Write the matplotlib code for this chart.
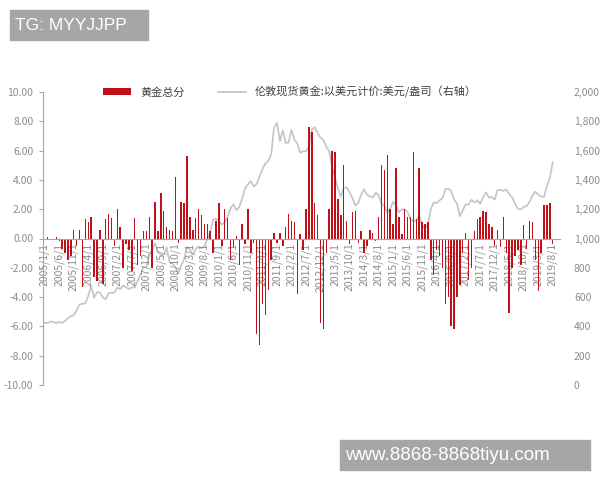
import matplotlib
matplotlib.use("Agg")
import matplotlib.pyplot as plt
from matplotlib.patches import Rectangle
from matplotlib.ticker import FuncFormatter, MultipleLocator
import numpy as np

plt.rcParams['font.family'] = ['Noto Sans CJK SC', 'DejaVu Sans']
plt.rcParams['axes.unicode_minus'] = False

# Monthly data, 2005/1 .. 2019/8
start_year, start_month = 2005, 1

gold_score = [
    -0.1, 0.1, -0.1, -0.1, 0.1, -0.2, -0.7, -1.0, -1.5, -1.2, 0.6, -0.5,
    0.55, -3.3, 1.3, 1.1, 1.5, -2.6, -2.9, 0.6, -3.1, 1.3,
    1.7, 1.4, -0.5, 2.0, 0.8, -2.0, -0.4, -0.8, -2.2, 1.4,
    -1.8, -1.2, 0.5, 0.5, 1.5, -2.0, 2.5, 0.5, 3.1, 1.9,
    0.8, 0.6, 0.5, 4.2, -0.3, 2.5, 2.4, 5.6, 1.5, 0.6,
    1.4, 2.0, 1.6, 1.0, 1.0, 0.5, -1.0, 1.2, 2.4, -0.5,
    2.0, 1.4, -1.5, -0.6, 0.2, -1.8, 1.0, -0.4, 2.0, -1.0,
    -0.3, -6.5, -7.3, -4.5, -5.2, -3.5, -1.5, 0.4, -0.3, 0.4,
    -0.5, 0.8, 1.7, 1.2, 1.1, -3.8, 0.3, -0.8, 2.0, 7.6,
    7.3, 2.4, 1.6, -5.8, -6.2, -1.0, 2.0, 6.0, 5.9, 2.7,
    1.6, 5.0, 1.2, -0.4, 1.8, 1.9, -0.3, 0.5, -1.0, -0.5,
    0.6, 0.4, -0.2, 1.5, 5.0, 4.7, 5.7, 2.0, 1.0, 4.8,
    1.5, 0.3, 2.0, 1.5, 1.5, 5.9, 1.3, 4.8, 1.1, 1.0,
    1.1, -1.5, -2.5, -0.8, -1.2, -2.0, -4.5, -4.0, -6.0, -6.2,
    -4.0, -3.2, -1.0, 0.4, -2.8, -2.0, 0.5, 1.3, 1.5, 1.9,
    1.8, 1.0, 0.8, -0.5, 0.6, -0.6, 1.5, -1.0, -5.1, -2.0,
    -1.2, -0.8, -1.8, 0.9, -0.7, 1.2, 1.1, -1.5, -3.6, -1.0,
    2.3, 2.3, 2.4, -0.4,
]

gold_price = [
    424, 423, 434, 429, 422, 431, 424, 437, 456, 470, 476, 510,
    549, 555, 557, 610, 676, 596, 633, 632, 598, 585, 627, 629,
    631, 665, 655, 679, 667, 655, 665, 665, 712, 754, 806, 803,
    889, 922, 968, 909, 888, 889, 939, 839, 829, 806, 760, 816,
    858, 943, 924, 890, 928, 946, 934, 949, 996, 1043, 1127, 1135,
    1118, 1095, 1113, 1148, 1205, 1233, 1193, 1215, 1271, 1343, 1370, 1391,
    1356, 1372, 1424, 1474, 1512, 1529, 1572, 1756, 1790, 1665, 1739, 1652,
    1656, 1742, 1674, 1650, 1585, 1596, 1594, 1630, 1744, 1760, 1721, 1688,
    1671, 1627, 1593, 1487, 1414, 1343, 1286, 1347, 1349, 1316, 1275, 1225,
    1244, 1300, 1336, 1299, 1288, 1279, 1311, 1296, 1239, 1222, 1176, 1202,
    1251, 1227, 1179, 1198, 1199, 1182, 1131, 1117, 1125, 1159, 1086, 1068,
    1097, 1200, 1246, 1242, 1260, 1276, 1337, 1341, 1326, 1267, 1238, 1152,
    1192, 1234, 1231, 1266, 1246, 1260, 1236, 1283, 1315, 1280, 1283, 1265,
    1331, 1331, 1325, 1335, 1303, 1282, 1238, 1202, 1198, 1215, 1221, 1250,
    1292, 1320, 1300, 1286, 1284, 1359, 1413, 1520,
]

n = len(gold_price)
dates = []
for k in range(n):
    m = start_month - 1 + k
    dates.append(f"{start_year + m // 12}/{m % 12 + 1}/1")

label_step = 5
legend_bar = '黄金总分'
legend_line = '伦敦现货黄金:以美元计价:美元/盎司（右轴）'

bar_color = '#C0101A'
line_color = '#C4C4C4'
txt_color = '#8C8C8C'

fig = plt.figure(figsize=(6, 4.8), dpi=100)
ax = fig.add_axes([43/600, 1-385/480, (560-43)/600, (385-92)/480])
ax2 = ax.twinx()

x = np.arange(n)
xb = np.arange(len(gold_score))
ax.bar(xb, gold_score, width=0.5, color=bar_color, zorder=3, label=legend_bar)
ax2.plot(x, gold_price, color=line_color, lw=1.2, label=legend_line, zorder=2)

ax.set_zorder(ax2.get_zorder() + 1)
ax.patch.set_visible(False)

ax.set_xlim(-0.6, 177.5)
ax.set_ylim(-10, 10)
ax2.set_ylim(0, 2000)

ax.yaxis.set_major_locator(MultipleLocator(2))
ax.yaxis.set_major_formatter(FuncFormatter(lambda v, p: f"{v:.2f}"))
ax2.yaxis.set_major_locator(MultipleLocator(200))
ax2.yaxis.set_major_formatter(FuncFormatter(lambda v, p: f"{int(v):,}"))

for s in ['top', 'right']:
    ax.spines[s].set_visible(False)
for s in ax2.spines.values():
    s.set_visible(False)
ax.spines['left'].set_color('#A6A6A6')
ax.spines['bottom'].set_color('#A6A6A6')
ax.spines['bottom'].set_position(('data', 0))
ax.spines['bottom'].set_zorder(4)

ticks = list(range(0, n, label_step))
ax.set_xticks(ticks)
ax.set_xticklabels([dates[t] for t in ticks], rotation=90, fontsize=7.5,
                   color=txt_color, va='top')
ax.tick_params(axis='x', length=0, pad=3)
ax.tick_params(axis='y', labelsize=7.5, labelcolor=txt_color, color='#A6A6A6',
               length=3, direction='out', pad=4)
ax2.tick_params(axis='y', labelsize=7.5, labelcolor=txt_color, length=0, pad=10)

h1, l1 = ax.get_legend_handles_labels()
h2, l2 = ax2.get_legend_handles_labels()
fig.legend(h1 + h2, l1 + l2, loc='center', ncol=2, frameon=False,
           bbox_to_anchor=(290/600, 1-92/480), fontsize=8, handlelength=2.5,
           handleheight=0.5, columnspacing=3, labelcolor='#404040')

# watermark boxes
fig.patches.append(Rectangle((10/600, 1-40/480), 138/600, 30/480,
                             transform=fig.transFigure, color='#A6A6A6', zorder=5))
fig.text(15/600, 1-25/480, 'TG: MYYJJPP', color='white', fontsize=12.5,
         family='Liberation Sans', va='center', ha='left', zorder=6)
fig.patches.append(Rectangle((340/600, 1-470/480), 250/600, 30/480,
                             transform=fig.transFigure, color='#A6A6A6', zorder=5))
fig.text(345/600, 1-455/480, 'www.8868-8868tiyu.com', color='white', fontsize=13.5,
         family='Liberation Sans', va='center', ha='left', zorder=6)

fig.savefig('out.png', dpi=100, facecolor='white')
